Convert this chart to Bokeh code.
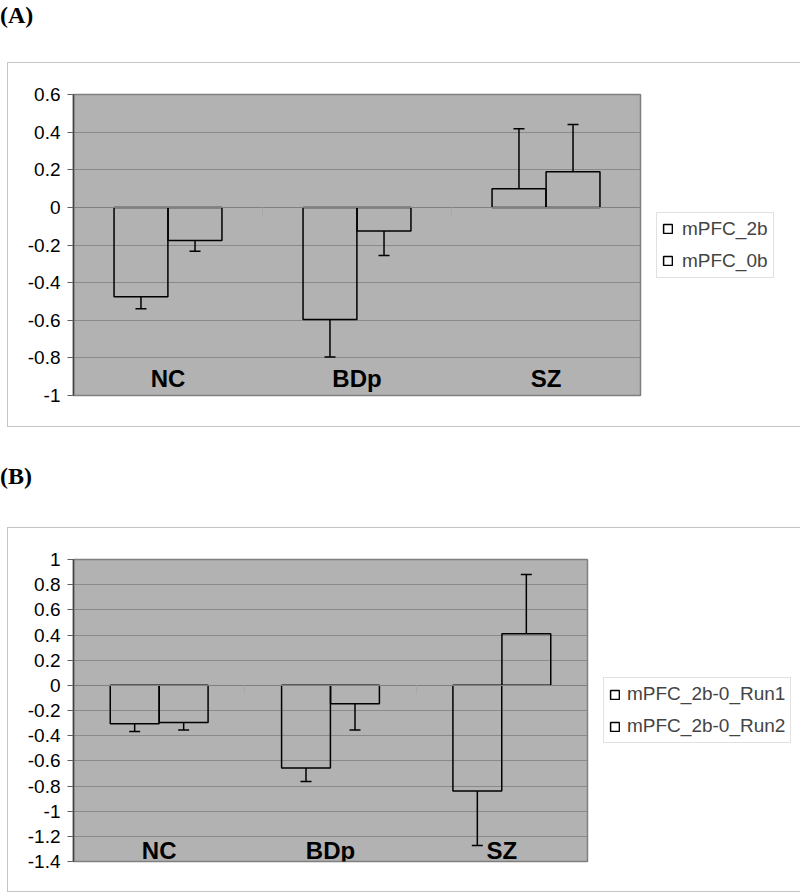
from bokeh.plotting import figure
from bokeh.models import (Range1d, FixedTicker, LinearAxis, Legend, LegendItem,
                          Div, ColumnDataSource)
from bokeh.layouts import column
from bokeh.core.properties import value
from bokeh.embed import file_html
from bokeh.resources import INLINE

# ---------------- data ----------------
groups = ["NC", "BDp", "SZ"]

a_series = ["mPFC_2b", "mPFC_0b"]
a_2b = [-0.475, -0.596, 0.099]
a_2b_err = [0.064, 0.200, 0.319]
a_0b = [-0.176, -0.126, 0.189]
a_0b_err = [0.057, 0.130, 0.252]
a_ticks = [-1, -0.8, -0.6, -0.4, -0.2, 0, 0.2, 0.4, 0.6]
a_tick_labels = ["-1", "-0.8", "-0.6", "-0.4", "-0.2", "0", "0.2", "0.4", "0.6"]

b_series = ["mPFC_2b-0_Run1", "mPFC_2b-0_Run2"]
b_run1 = [-0.306, -0.656, -0.839]
b_run1_err = [0.061, 0.109, 0.434]
b_run2 = [-0.296, -0.147, 0.409]
b_run2_err = [0.058, 0.207, 0.472]
b_ticks = [-1.4, -1.2, -1, -0.8, -0.6, -0.4, -0.2, 0, 0.2, 0.4, 0.6, 0.8, 1]
b_tick_labels = ["-1.4", "-1.2", "-1", "-0.8", "-0.6", "-0.4", "-0.2", "0",
                 "0.2", "0.4", "0.6", "0.8", "1"]

FONT = "Liberation Sans"


def make_panel(frame_w, frame_h, border_right, border_bottom, ticks, tick_labels,
               series_names, series_vals, series_errs, label_offset, standoff):
    n = len(groups)
    p = figure(frame_width=frame_w, frame_height=frame_h,
               x_range=Range1d(0, n), y_range=Range1d(ticks[0], ticks[-1]),
               x_axis_type=None,
               output_backend="svg", toolbar_location=None,
               min_border_left=65, min_border_right=border_right,
               min_border_top=31, min_border_bottom=border_bottom,
               background_fill_color="#b2b2b2", border_fill_color="white",
               outline_line_color="#808080", outline_line_width=1.5, margin=0)

    # y axis
    yt = FixedTicker(ticks=ticks)
    p.yaxis.ticker = yt
    p.yaxis.major_label_overrides = {t: l for t, l in zip(ticks, tick_labels)}
    p.yaxis.axis_line_color = "#404040"
    p.yaxis.axis_line_width = 1.5
    p.yaxis.major_tick_in = 0
    p.yaxis.major_tick_out = 6
    p.yaxis.major_tick_line_color = "#606060"
    p.yaxis.minor_tick_line_color = None
    p.yaxis.major_label_text_font = FONT
    p.yaxis.major_label_text_font_size = "19px"
    p.yaxis.major_label_text_color = "black"
    p.yaxis.major_label_standoff = 7
    p.ygrid.ticker = yt
    p.ygrid.grid_line_color = "#8a8a8a"
    p.ygrid.grid_line_width = 1

    # category axis crossing at zero (ticks between the groups)
    bounds = list(range(1, n))
    xa = LinearAxis(fixed_location=0, ticker=FixedTicker(ticks=bounds),
                    axis_line_color="#808080", major_tick_in=0, major_tick_out=8,
                    major_tick_line_color="#a8a8a8", minor_tick_line_color=None,
                    major_label_overrides={b: "" for b in bounds},
                    major_label_standoff=0)
    p.add_layout(xa, "below")

    offsets = [-0.143, 0.143]
    renderers = []
    for k in range(len(series_vals)):
        vals = series_vals[k]
        errs = series_errs[k]
        xs = [i + 0.5 + offsets[k] for i in range(n)]
        ends = [v + e if v >= 0 else v - e for v, e in zip(vals, errs)]
        src = ColumnDataSource(dict(x=xs, top=vals, end=ends))
        r = p.vbar(x="x", top="top", bottom=0, width=0.285, source=src,
                   fill_color=None, line_color="black", line_width=1.5)
        p.segment(x0="x", y0="top", x1="x", y1="end", source=src,
                  line_color="black", line_width=1.5)
        p.scatter(x="x", y="end", marker="dash", size=11, source=src,
                  line_color="black", line_width=1.5)
        renderers.append(r)

    # category labels inside the plot area
    p.text(x=[i + 0.5 for i in range(n)], y=[ticks[0]] * n, text=groups,
           text_font=value(FONT), text_font_style="bold", text_font_size="24px",
           text_align="center", text_baseline="middle", y_offset=-label_offset,
           text_color="black")

    legend = Legend(items=[LegendItem(label=nm, renderers=[r])
                           for nm, r in zip(series_names, renderers)],
                    location="center_left", orientation="vertical",
                    label_text_font=FONT, label_text_font_size="19px",
                    glyph_width=11, glyph_height=11, label_height=22,
                    padding=5, spacing=10, label_standoff=standoff, margin=16,
                    border_line_color="#c4c4c4", border_line_width=1,
                    background_fill_color="white", background_fill_alpha=1)
    p.add_layout(legend, "right")
    return p


# frame sizes; outer box adds a 1px border on every side
pA = make_panel(567, 301, 139, 31, a_ticks, a_tick_labels, a_series,
                [a_2b, a_0b], [a_2b_err, a_0b_err], 17, 9)
pB = make_panel(514, 302, 211, 30, b_ticks, b_tick_labels, b_series,
                [b_run1, b_run2], [b_run1_err, b_run2_err], 11, 7)

box_style = {"border": "1px solid #c4c4c4", "margin-left": "7px"}
boxA = column(pA, styles=box_style, spacing=0)
boxB = column(pB, styles=box_style, spacing=0)

lab_style = "font-family: 'Liberation Serif'; font-weight: bold; font-size: 24px; line-height: 20px;"
divA = Div(text=f'<div style="{lab_style} margin-top:5px;">(A)</div>',
           width=200, height=62, margin=0)
divB = Div(text=f'<div style="{lab_style} margin-top:39px;">(B)</div>',
           width=200, height=100, margin=0)

layout = column(divA, boxA, divB, boxB, spacing=0)

open("out.html", "w").write(file_html(layout, INLINE))
